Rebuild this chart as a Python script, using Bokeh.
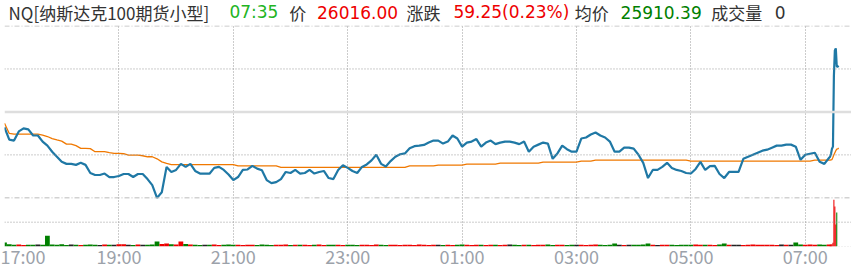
from bokeh.plotting import figure
from bokeh.models import Span, FixedTicker, Range1d
from bokeh.layouts import column
from bokeh.core.properties import value
from bokeh.embed import file_html
from bokeh.resources import INLINE

# ---------------- data ----------------
TITLE_NAME = "NQ[纳斯达克100期货小型]"
LAST_TIME = "07:35"
LAST_PRICE = 26016.00
CHANGE = 59.25
CHANGE_PCT = 0.23
AVG_PRICE = 25910.39
VOLUME = 0
PREV_CLOSE = LAST_PRICE - CHANGE  # 25956.75

# x axis: minutes since session start (17:00)
TICK_MINUTES = [0, 120, 240, 360, 480, 600, 720, 840]
TICK_LABELS = ["17:00", "19:00", "21:00", "23:00", "01:00", "03:00", "05:00", "07:00"]

STEP_MIN = 5  # 5-minute samples from 17:00 to 07:25
price_5m = [
    25936.9, 25921.3, 25920.0, 25931.7, 25935.6, 25934.3, 25926.5, 25926.5, 25918.7, 25913.5,
    25905.7, 25899.2, 25892.7, 25890.1, 25890.1, 25888.8, 25891.4, 25888.8, 25878.4, 25875.8,
    25875.8, 25877.7, 25873.2, 25873.2, 25874.5, 25877.1, 25877.1, 25873.2, 25877.1, 25877.1,
    25870.6, 25862.8, 25846.5, 25853.7, 25886.2, 25879.7, 25882.3, 25890.1, 25886.2, 25890.1,
    25881.0, 25877.7, 25877.7, 25877.5, 25884.9, 25886.2, 25882.3, 25876.4, 25869.3, 25873.2,
    25882.3, 25882.9, 25887.5, 25884.0, 25881.9, 25869.3, 25865.4, 25866.7, 25870.6, 25879.7,
    25878.4, 25882.3, 25877.5, 25878.4, 25882.3, 25877.7, 25879.7, 25881.0, 25871.9, 25870.6,
    25882.3, 25888.4, 25884.9, 25881.0, 25878.4, 25886.2, 25889.4, 25894.6, 25901.8, 25890.1,
    25886.8, 25893.7, 25899.2, 25902.4, 25903.5, 25910.0, 25912.8, 25913.5, 25914.4, 25917.4,
    25920.0, 25920.0, 25916.1, 25918.7, 25926.5, 25922.6, 25912.2, 25917.4, 25918.7, 25921.9,
    25912.2, 25917.4, 25920.0, 25915.4, 25917.4, 25918.7, 25918.7, 25917.4, 25915.4, 25918.7,
    25905.7, 25912.2, 25914.8, 25917.4, 25916.1, 25896.6, 25903.5, 25913.5, 25908.9, 25905.7,
    25905.7, 25922.6, 25923.9, 25927.8, 25930.4, 25926.5, 25923.9, 25918.7, 25905.7, 25905.7,
    25910.9, 25910.9, 25909.6, 25901.8, 25891.4, 25871.9, 25882.3, 25882.3, 25886.2, 25891.4,
    25884.9, 25882.3, 25881.0, 25878.4, 25877.7, 25883.6, 25892.7, 25882.3, 25887.1, 25887.5,
    25877.1, 25871.9, 25879.7, 25879.7, 25879.7, 25896.6, 25899.2, 25901.8, 25904.4, 25907.0,
    25908.3, 25910.9, 25913.5, 25913.5, 25914.8, 25914.8, 25912.2, 25895.3, 25901.8, 25903.1,
    25904.4, 25892.7, 25890.1, 25897.9,
]
avg_5m = [
    25942.1, 25929.1, 25928.2, 25928.2, 25928.2, 25928.2, 25928.2, 25928.2, 25927.1, 25925.2,
    25922.6, 25920.9, 25919.3, 25915.4, 25915.4, 25913.5, 25910.0, 25910.0, 25909.6, 25905.7,
    25905.7, 25905.7, 25904.4, 25903.5, 25903.5, 25903.1, 25901.4, 25901.4, 25901.4, 25900.5,
    25899.2, 25899.2, 25896.6, 25892.7, 25890.7, 25889.2, 25889.2, 25889.2, 25889.2, 25889.2,
    25889.2, 25889.2, 25889.2, 25889.2, 25889.2, 25889.2, 25889.2, 25889.2, 25889.2, 25887.5,
    25887.5, 25887.5, 25887.5, 25887.5, 25887.5, 25887.5, 25887.5, 25887.5, 25885.5, 25885.5,
    25885.5, 25885.5, 25885.5, 25885.5, 25885.5, 25885.5, 25885.5, 25885.5, 25885.5, 25885.5,
    25885.5, 25885.5, 25885.5, 25885.5, 25885.5, 25885.5, 25885.5, 25885.5, 25885.5, 25885.5,
    25885.5, 25885.5, 25885.5, 25885.5, 25885.5, 25887.5, 25887.5, 25887.5, 25887.5, 25887.5,
    25887.5, 25888.4, 25888.4, 25888.4, 25888.4, 25888.4, 25888.4, 25889.7, 25889.7, 25889.7,
    25889.7, 25889.7, 25889.7, 25889.7, 25891.0, 25891.0, 25891.0, 25891.0, 25891.0, 25891.0,
    25891.0, 25891.0, 25891.0, 25892.3, 25892.3, 25892.3, 25892.3, 25892.3, 25892.3, 25892.3,
    25892.3, 25893.6, 25893.6, 25893.6, 25894.9, 25894.9, 25894.9, 25894.9, 25894.9, 25894.9,
    25894.9, 25894.9, 25894.9, 25894.9, 25894.9, 25894.9, 25894.9, 25894.9, 25894.9, 25894.9,
    25894.9, 25894.9, 25894.9, 25894.9, 25893.6, 25893.6, 25893.6, 25893.6, 25893.6, 25893.6,
    25893.6, 25893.6, 25893.6, 25893.6, 25893.6, 25893.6, 25893.6, 25893.6, 25893.6, 25893.6,
    25893.6, 25893.6, 25893.6, 25893.6, 25893.6, 25893.6, 25893.6, 25893.6, 25893.6, 25893.6,
    25894.9, 25894.9, 25894.9, 25894.9,
]
vol_5m = [
    42, 22, 18, 20, 16, 19, 18, 21, 17, 110,
    20, 18, 22, 16, 20, 18, 16, 19, 21, 18,
    16, 20, 18, 19, 22, 24, 18, 16, 21, 19,
    18, 21, 52, 26, 32, 22, 21, 52, 26, 20,
    18, 16, 19, 18, 21, 16, 18, 20, 19, 18,
    16, 18, 19, 16, 21, 18, 16, 19, 18, 20,
    16, 18, 17, 19, 16, 18, 20, 16, 18, 17,
    19, 16, 18, 17, 16, 19, 18, 16, 20, 17,
    16, 18, 19, 16, 17, 18, 16, 20, 18, 16,
    17, 19, 16, 18, 16, 17, 21, 18, 16, 19,
    18, 16, 17, 19, 16, 18, 20, 17, 16, 18,
    19, 16, 18, 17, 20, 16, 18, 19, 16, 18,
    17, 19, 16, 18, 20, 17, 16, 18, 32, 18,
    16, 17, 19, 18, 20, 32, 18, 16, 17, 19,
    18, 16, 19, 17, 18, 20, 19, 17, 18, 16,
    20, 32, 18, 17, 19, 16, 18, 20, 17, 18,
    19, 18, 16, 20, 18, 19, 42, 21, 18, 20,
    19, 21, 18, 20,
]
# last ten minutes, 1-minute samples (07:26 .. 07:35)
tail_minutes = [866, 867, 868, 869, 870, 871, 872, 873, 874, 875]
price_tail = [25899.2, 25903.1, 25909.6, 25912.2, 26003.2, 26035.7, 26038.3, 26015.0, 26015.0, 26016.0]
avg_tail = [25894.9, 25895.3, 25895.6, 25898.5, 25901.8, 25904.4, 25907.0, 25908.9, 25909.2, 25910.4]
vol_tail = [18, 20, 24, 38, 480, 410, 225, 350, 0, 0]

# ---------------- styles ----------------
BLUE = "#1f78a5"
ORANGE = "#f07800"
UP = "#ee0000"
DOWN = "#008000"
FLAT = "#222222"
TEXT_DARK = "#333333"
FONT = "Noto Sans CJK SC"
NUM_FONT = "DejaVu Sans"
W = 851
HEADER_H = 25
MAIN_H = 279 - HEADER_H

# ---------------- derived ----------------
t_5m = [i * STEP_MIN for i in range(len(price_5m))]
t_all = t_5m + tail_minutes
p_all = price_5m + price_tail
a_all = avg_5m + avg_tail
v_all = vol_5m + vol_tail
w_all = [STEP_MIN] * len(vol_5m) + [1.1] * len(vol_tail)

colors = []
prev = PREV_CLOSE
for v in p_all:
    colors.append(UP if v > prev else (DOWN if v < prev else FLAT))
    prev = v

half = max(abs(v - PREV_CLOSE) for v in p_all)
price_hi = PREV_CLOSE + half
price_lo = PREV_CLOSE - half
row = half / 2
PRICE_PX = 172.0
VOL_PX = 48.7
pts_per_px = 2 * half / PRICE_PX
y_start = price_lo - VOL_PX * pts_per_px
y_end = price_hi + 0.5 * pts_per_px     # keep the top rule just inside the frame
VOL_TOP = 500
vol_end = VOL_TOP * (PRICE_PX + VOL_PX + 0.5) / VOL_PX

FRAME_LEFT, FRAME_BOTTOM = 4, 246 - HEADER_H
PX_PER_MIN = 114.4 / 120
x_end = (W - FRAME_LEFT) / PX_PER_MIN

# ---------------- header strip ----------------
hdr = figure(width=W, height=HEADER_H, output_backend="svg", toolbar_location=None, tools="",
             x_range=Range1d(0, W), y_range=Range1d(0, HEADER_H),
             x_axis_location=None, y_axis_location=None,
             min_border_left=0, min_border_right=0, min_border_top=0, min_border_bottom=0)
hdr.outline_line_color = None
hdr.grid.visible = False

# Chinese / mixed segments
cjk_text = [TITLE_NAME, "价", "涨跌", "均价", "成交量"]
cjk_x = [4, 286, 404, 573, 710]
hdr.text(x=cjk_x, y=[HEADER_H / 2 + 0.2] * len(cjk_x), text=cjk_text,
         text_color=TEXT_DARK, text_font=value(FONT), text_font_size=value("17px"),
         text_baseline="middle", text_align="left")
# numeric segments
num_text = [LAST_TIME, f"{LAST_PRICE:.2f}", f"{CHANGE:.2f}({CHANGE_PCT:.2f}%)",
            f"{AVG_PRICE:.2f}", str(VOLUME)]
num_x = [226, 314, 451, 619, 774]
num_col = ["#22b422", UP, UP, DOWN, TEXT_DARK]
hdr.text(x=num_x, y=[13.4] * len(num_x), text=num_text,
         text_color=num_col, text_font=value(NUM_FONT), text_font_size=value("17px"),
         text_baseline="middle", text_align="left")

# ---------------- main chart ----------------
p = figure(width=W, height=MAIN_H, output_backend="svg", toolbar_location=None, tools="",
           x_range=Range1d(0, x_end), y_range=Range1d(y_start, y_end),
           y_axis_location=None, min_border_left=FRAME_LEFT, min_border_right=0,
           min_border_top=0, min_border_bottom=MAIN_H - FRAME_BOTTOM)
p.extra_y_ranges = {"vol": Range1d(0, vol_end)}
p.outline_line_color = None

p.ygrid.visible = False
p.xgrid.ticker = FixedTicker(ticks=TICK_MINUTES)
p.xgrid.grid_line_color = "#999999"
p.xgrid.grid_line_dash = "1 2"
p.xgrid.grid_line_width = 1

ax = p.xaxis[0]
ax.ticker = FixedTicker(ticks=TICK_MINUTES)
ax.major_label_overrides = dict(zip(TICK_MINUTES, TICK_LABELS))
ax.axis_line_color = None
ax.major_tick_line_color = None
ax.major_tick_out = 0
ax.major_tick_in = 0
ax.minor_tick_line_color = None
ax.major_label_text_font = FONT
ax.major_label_text_font_size = "18px"
ax.major_label_text_color = "#9ca2aa"
ax.major_label_standoff = -4

for loc, dash, col, wd in [
    (price_hi, "5 2 1 2", "#bbbbbb", 1),
    (PREV_CLOSE + row, "1 2", "#999999", 1),
    (PREV_CLOSE, "solid", "#dedede", 2.5),
    (PREV_CLOSE - row, "1 2", "#999999", 1),
    (price_lo, "5 2 1 2", "#bbbbbb", 1),
]:
    p.add_layout(Span(location=loc, dimension="width", line_color=col,
                      line_dash=dash, line_width=wd))
for loc, dash, col in [(VOL_TOP / 2, "1 2", "#999999"), (0, "1 2", "#cccccc")]:
    p.add_layout(Span(location=loc, dimension="width", line_color=col,
                      line_dash=dash, line_width=1, y_range_name="vol"))

p.vbar(x=t_all, top=v_all, width=w_all, bottom=0, fill_color=colors,
       line_color=None, y_range_name="vol")

p.line(t_all, a_all, line_color=ORANGE, line_width=1.3)
p.line(t_all, p_all, line_color=BLUE, line_width=2.2)

layout = column(hdr, p, spacing=0)
open("out.html", "w").write(file_html(layout, INLINE))
